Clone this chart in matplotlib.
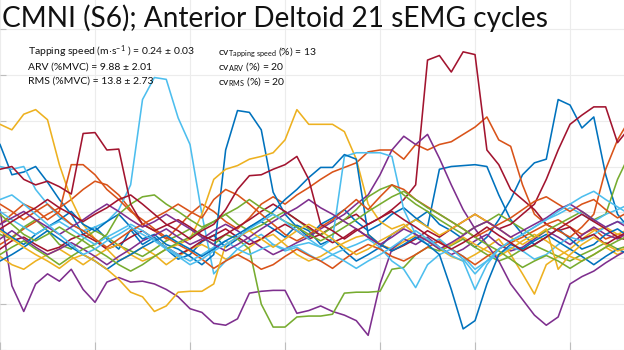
import numpy as np
import matplotlib
matplotlib.use("Agg")
import matplotlib.pyplot as plt

# Normalised cycle time (%) shared by all cycles
cycle_pct = np.arange(54) * 1.25

# sEMG envelope (%MVC) for each of the 21 cycles
cycle_01 = [22.4, 19.1, 19.4, 20.0, 18.3, 16.4, 14.8, 12.6, 13.4, 12.1, 11.0, 13.1, 11.5, 12.3, 11.0, 9.9, 10.4, 11.8,
            12.5, 11.2, 12.1, 13.4, 14.0, 13.2, 12.3, 13.6, 13.0, 11.5, 12.1, 10.8, 9.7, 10.4, 11.2, 12.6, 13.4, 14.2,
            15.1, 13.7, 13.0, 12.1, 11.2, 12.3, 14.2, 16.4, 19.1, 20.4, 20.8, 27.3, 26.7, 24.2, 25.4, 19.1, 14.8, 13.2]
cycle_02 = [11.5, 12.3, 13.2, 14.0, 14.8, 15.5, 16.4, 17.5, 18.4, 18.0, 16.9, 15.3, 13.7, 13.0, 12.1, 13.4, 14.8, 15.9,
            15.1, 14.0, 13.2, 14.4, 15.9, 16.7, 15.9, 16.9, 17.7, 18.6, 19.4, 19.9, 20.4, 21.6, 21.8, 21.8, 20.8, 22.4,
            21.8, 22.4, 22.7, 23.5, 24.3, 25.4, 22.9, 22.2, 18.0, 14.8, 13.7, 14.2, 13.4, 12.6, 13.2, 12.1, 12.6, 12.3]
cycle_03 = [24.6, 24.0, 25.7, 26.2, 25.1, 20.2, 16.4, 13.7, 12.1, 11.0, 9.7, 10.4, 11.2, 10.4, 9.3, 10.2, 11.0, 11.5,
            10.8, 9.9, 10.4, 11.2, 12.1, 12.6, 11.5, 10.4, 9.7, 10.2, 11.0, 11.7, 12.3, 12.6, 11.5, 11.0, 11.8, 12.5,
            12.1, 11.0, 10.2, 9.7, 10.4, 11.2, 12.1, 10.4, 8.3, 6.1, 9.3, 10.2, 11.0, 12.1, 13.0, 13.4, 12.6, 13.2]
cycle_04 = [15.3, 7.0, 4.2, 7.2, 8.3, 7.5, 8.8, 6.6, 5.2, 7.4, 7.9, 7.4, 7.5, 7.2, 6.6, 5.8, 4.5, 4.1,
            2.9, 2.7, 3.4, 6.2, 6.4, 6.5, 6.5, 4.0, 4.3, 4.8, 4.2, 3.8, 3.2, 1.6, 7.2, 11.0, 12.1, 11.5,
            12.3, 11.2, 10.4, 11.0, 11.9, 12.6, 11.5, 10.8, 11.2, 12.1, 13.0, 12.3, 11.5, 12.5, 13.4, 12.6, 12.1, 12.9]
cycle_05 = [12.6, 12.1, 13.4, 14.2, 13.0, 11.5, 11.0, 12.1, 13.0, 12.3, 11.4, 10.8, 10.2, 11.0, 11.9, 12.5, 13.2, 12.3,
            11.5, 12.6, 12.1, 11.0, 5.0, 2.5, 2.5, 3.6, 3.7, 3.7, 3.9, 6.2, 6.3, 6.3, 6.4, 8.8, 9.0, 10.4,
            11.2, 10.8, 11.4, 12.1, 11.2, 10.4, 9.7, 10.2, 11.0, 11.4, 10.8, 10.2, 9.7, 10.4, 11.0, 11.7, 11.0, 11.4]
cycle_06 = [20.0, 19.7, 20.0, 17.5, 15.9, 14.5, 13.7, 13.0, 13.4, 14.0, 15.3, 18.0, 27.3, 29.7, 29.5, 25.3, 22.4, 14.8,
            8.3, 9.7, 11.0, 11.9, 12.6, 11.5, 10.8, 11.2, 10.4, 9.7, 10.4, 11.0, 11.5, 12.1, 11.2, 9.7, 8.8, 6.8,
            9.3, 10.4, 11.0, 10.2, 8.8, 9.7, 10.4, 11.2, 10.8, 9.9, 10.4, 11.5, 12.3, 11.9, 12.6, 13.4, 14.0, 13.7]
cycle_07 = [11.0, 11.9, 12.3, 11.5, 10.8, 11.2, 12.1, 12.6, 11.9, 11.0, 11.5, 12.3, 13.0, 12.1, 11.2, 10.4, 11.0, 11.9,
            12.5, 13.2, 12.3, 11.5, 12.1, 13.0, 13.7, 13.0, 12.1, 12.6, 13.4, 14.2, 14.8, 13.7, 14.4, 15.3, 16.4, 18.0,
            31.6, 32.1, 30.3, 32.5, 32.2, 21.8, 20.2, 17.5, 16.4, 15.3, 13.7, 13.0, 13.4, 12.1, 12.6, 11.5, 12.3, 11.9]
cycle_08 = [13.2, 12.3, 11.5, 12.6, 13.4, 14.2, 15.1, 13.7, 13.0, 14.0, 14.8, 13.4, 12.1, 12.6, 11.5, 11.0, 10.2, 9.3,
            10.4, 21.8, 26.1, 25.9, 24.0, 17.2, 14.8, 13.4, 12.3, 13.7, 14.4, 15.3, 14.0, 13.0, 13.7, 14.8, 15.5, 14.4,
            13.4, 19.7, 20.0, 20.1, 20.2, 20.0, 16.9, 14.2, 12.6, 11.5, 12.3, 13.2, 12.1, 11.0, 11.5, 12.6, 13.2, 12.3]
cycle_09 = [13.7, 14.8, 15.9, 15.3, 14.2, 15.1, 20.2, 20.2, 19.1, 17.5, 16.4, 15.1, 14.2, 13.2, 12.3, 11.5, 10.8, 9.9,
            8.9, 9.7, 10.4, 9.7, 8.8, 9.3, 10.2, 11.0, 10.3, 9.7, 8.9, 9.9, 10.8, 11.5, 11.0, 10.2, 9.7, 10.4,
            11.2, 11.9, 11.0, 10.2, 9.3, 10.2, 11.0, 11.7, 12.3, 13.0, 13.7, 13.0, 12.3, 13.4, 14.8, 19.7, 22.9, 25.1]
cycle_10 = [10.2, 9.3, 8.8, 9.7, 10.4, 11.0, 10.2, 9.3, 10.2, 11.0, 11.5, 10.4, 9.7, 10.2, 11.0, 11.5, 12.1, 14.8,
            18.6, 19.7, 20.1, 20.8, 21.1, 21.5, 22.9, 26.2, 24.6, 24.6, 24.6, 23.8, 20.8, 15.9, 14.0, 13.2, 13.7, 12.6,
            11.9, 11.0, 11.5, 12.3, 11.5, 10.8, 10.2, 11.0, 11.9, 12.6, 11.9, 11.0, 10.2, 9.7, 10.4, 11.2, 10.4, 11.0]
cycle_11 = [12.1, 13.0, 12.1, 11.2, 10.4, 11.0, 11.7, 11.0, 10.2, 9.3, 10.2, 11.0, 11.9, 12.5, 13.2, 12.3, 11.5, 12.1,
            13.0, 13.7, 13.0, 12.1, 11.2, 10.4, 11.0, 11.7, 12.3, 13.2, 14.0, 14.8, 15.9, 16.9, 19.1, 21.8, 23.3, 22.4,
            23.5, 20.9, 18.0, 15.3, 13.2, 11.5, 9.7, 7.2, 5.5, 3.8, 2.7, 3.6, 7.2, 8.0, 8.6, 9.5, 10.3, 11.0]
cycle_12 = [10.4, 11.2, 11.9, 11.0, 10.2, 9.3, 10.2, 11.0, 11.5, 12.6, 14.8, 15.9, 16.7, 16.9, 15.9, 15.1, 14.2, 13.4,
            14.0, 14.8, 13.7, 13.0, 13.6, 14.4, 15.1, 14.2, 13.2, 12.5, 13.4, 14.2, 15.3, 16.7, 17.5, 18.0, 16.9, 15.9,
            15.1, 14.2, 13.4, 12.6, 13.4, 14.0, 14.8, 14.0, 13.2, 12.3, 13.0, 13.7, 14.4, 15.1, 14.2, 14.8, 18.6, 21.3]
cycle_13 = [15.1, 14.2, 13.4, 12.6, 13.4, 14.0, 13.2, 12.3, 11.5, 12.3, 13.0, 13.7, 13.0, 12.1, 11.2, 10.4, 9.7, 10.4,
            11.2, 11.9, 11.0, 10.4, 11.0, 11.5, 11.0, 11.4, 11.7, 11.2, 12.1, 21.1, 21.5, 21.5, 21.5, 21.1, 15.3, 12.6,
            11.5, 12.1, 11.0, 9.9, 8.3, 9.7, 11.0, 11.9, 12.6, 13.4, 14.2, 14.8, 15.5, 14.8, 14.0, 14.8, 15.3, 15.9]
cycle_14 = [19.7, 20.0, 18.6, 18.0, 18.4, 17.8, 17.0, 23.6, 23.7, 21.8, 21.9, 15.9, 13.7, 13.0, 13.6, 14.2, 13.4, 12.5,
            11.9, 12.6, 13.4, 14.2, 15.1, 15.9, 15.1, 14.2, 13.4, 12.5, 11.7, 12.3, 13.2, 12.3, 11.5, 10.8, 11.4, 12.1,
            13.0, 12.3, 13.2, 14.0, 14.8, 14.0, 13.2, 13.7, 14.8, 15.9, 18.6, 21.8, 24.6, 25.6, 26.5, 26.5, 22.6, 24.2]
cycle_15 = [9.7, 10.4, 11.2, 12.1, 13.0, 12.1, 11.2, 10.4, 9.7, 8.8, 9.7, 10.4, 11.2, 11.9, 12.5, 11.7, 11.0, 10.2,
            11.0, 11.9, 12.6, 13.4, 14.2, 15.1, 16.4, 17.5, 18.8, 19.9, 19.9, 21.3, 20.8, 12.6, 11.5, 10.8, 11.5, 12.3,
            11.5, 10.4, 6.6, 2.3, 3.2, 7.2, 10.4, 11.5, 11.0, 11.9, 12.6, 11.8, 11.0, 10.2, 9.3, 10.2, 11.0, 10.4]
cycle_16 = [15.9, 15.1, 14.2, 15.1, 15.9, 14.8, 13.7, 13.0, 12.1, 11.2, 12.1, 13.0, 13.7, 14.4, 15.1, 15.9, 15.1, 14.4,
            16.4, 17.5, 16.9, 15.9, 14.8, 13.7, 12.6, 11.9, 12.6, 13.4, 14.2, 15.3, 16.4, 15.3, 16.7, 18.0, 17.5, 16.4,
            15.6, 14.8, 14.0, 13.2, 12.3, 13.0, 13.7, 14.4, 15.3, 16.2, 16.7, 15.9, 15.1, 15.9, 16.4, 15.3, 14.4, 15.1]
cycle_17 = [13.0, 12.1, 11.2, 10.4, 9.7, 8.9, 9.9, 10.4, 9.7, 8.8, 7.7, 6.3, 5.8, 4.2, 4.8, 6.3, 6.4, 6.4,
            7.2, 11.5, 12.3, 13.0, 12.1, 11.2, 12.1, 13.0, 13.7, 13.0, 12.1, 11.2, 10.4, 11.0, 11.9, 12.6, 13.4, 14.2,
            13.4, 12.5, 13.2, 14.0, 14.8, 14.0, 13.2, 12.3, 11.5, 12.3, 13.2, 8.8, 10.4, 11.5, 12.3, 11.5, 10.8, 11.2]
cycle_18 = [13.7, 14.4, 15.1, 14.2, 13.4, 12.6, 13.4, 14.2, 15.1, 15.9, 15.1, 14.2, 13.4, 14.0, 14.8, 14.0, 13.2, 12.3,
            11.5, 10.8, 11.5, 12.3, 13.2, 14.0, 14.8, 15.5, 16.4, 15.5, 14.8, 14.0, 13.2, 12.3, 11.5, 12.3, 13.2, 12.6,
            11.9, 11.0, 11.7, 12.5, 13.4, 14.0, 13.2, 12.3, 13.0, 13.7, 14.4, 15.3, 15.9, 15.1, 14.2, 13.4, 14.0, 13.2]
cycle_19 = [14.8, 13.7, 12.6, 11.9, 12.6, 13.4, 12.6, 11.9, 11.0, 10.2, 9.3, 8.6, 9.3, 10.2, 11.0, 11.7, 12.3, 13.2,
            14.0, 14.8, 15.5, 16.4, 15.5, 14.8, 14.0, 13.4, 12.6, 11.9, 12.6, 13.4, 14.2, 15.1, 15.9, 16.7, 17.3, 16.4,
            15.5, 14.8, 14.0, 13.2, 12.3, 11.5, 10.8, 9.9, 9.0, 9.7, 10.3, 9.7, 8.9, 9.7, 10.4, 11.2, 11.9, 12.5]
cycle_20 = [16.4, 16.9, 15.9, 14.8, 13.7, 12.6, 11.5, 10.4, 11.0, 11.9, 12.6, 13.4, 12.6, 11.9, 11.0, 10.2, 9.3, 9.9,
            10.8, 11.5, 12.3, 13.2, 14.0, 14.8, 14.0, 13.0, 12.1, 11.2, 10.4, 9.7, 8.9, 9.7, 10.4, 11.2, 12.1, 13.0,
            12.1, 11.2, 10.3, 9.7, 6.6, 9.3, 11.0, 11.9, 12.6, 13.4, 14.2, 15.1, 15.9, 16.7, 17.3, 16.4, 15.6, 14.8]
cycle_21 = [13.2, 14.0, 14.8, 15.5, 16.4, 15.5, 14.8, 14.0, 14.8, 15.5, 16.4, 16.9, 15.9, 14.8, 13.7, 13.0, 12.1, 13.0,
            13.7, 15.3, 17.5, 19.0, 19.1, 19.7, 20.2, 21.1, 18.6, 13.7, 13.0, 12.1, 13.0, 13.7, 14.4, 15.1, 14.2, 13.4,
            12.5, 11.7, 11.0, 11.7, 12.5, 13.4, 12.5, 11.7, 10.8, 11.5, 12.3, 13.2, 14.0, 14.8, 14.0, 13.2, 12.3, 13.0]

cycles = [cycle_01, cycle_02, cycle_03, cycle_04, cycle_05, cycle_06, cycle_07,
          cycle_08, cycle_09, cycle_10, cycle_11, cycle_12, cycle_13, cycle_14,
          cycle_15, cycle_16, cycle_17, cycle_18, cycle_19, cycle_20, cycle_21]

palette = ["#0072BD", "#D95319", "#EDB120", "#7E2F8E", "#77AC30", "#4DBEEE", "#A2142F"]

title = "CMNI (S6); Anterior Deltoid 21 sEMG cycles"
stats_left = [r"Tapping speed (m$\cdot$s$^{\mathregular{-1}}$ ) = 0.24 ± 0.03",
              "ARV (%MVC) = 9.88 ± 2.01",
              "RMS (%MVC) = 13.8 ± 2.73"]
stats_right = [r"cv$_{\mathregular{Tapping\ speed}}$ (%) = 13",
               r"cv$_{\mathregular{ARV}}$ (%) = 20",
               r"cv$_{\mathregular{RMS}}$ (%) = 20"]

plt.rcParams["mathtext.default"] = "regular"
plt.rcParams["font.family"] = ["Lato", "DejaVu Sans"]

fig = plt.figure(figsize=(6.24, 3.5), dpi=100)
ax = fig.add_axes([0, 0, 1, 1])

for k, ys in enumerate(cycles):
    ax.plot(cycle_pct, ys, color=palette[k % 7], lw=1.15, solid_joinstyle="round")

ax.set_xlim(0, 65.68)
ax.set_ylim(0, 38.15)
ax.set_xticks(np.arange(0, 70, 10))
ax.set_yticks(np.arange(0, 40, 5))
ax.grid(True, color="#ececec", lw=0.8)
ax.set_axisbelow(True)
for s in ax.spines.values():
    s.set_visible(False)
ax.tick_params(axis="x", direction="in", length=6, color="#bdbdbd", labelbottom=False)
ax.tick_params(axis="y", direction="in", length=4, color="#bdbdbd", labelleft=False)

fig.text(2 / 624, 1 - 27 / 350, title, fontsize=20.2, color="#111111", ha="left", va="baseline")
for j, (a, b) in enumerate(zip(stats_left, stats_right)):
    yb = 1 - (55 + 14.5 * j) / 350
    fig.text(28 / 624, yb, a, fontsize=7.5, color="#111111", ha="left", va="baseline")
    fig.text(218 / 624, yb, b, fontsize=7.5, color="#111111", ha="left", va="baseline")

fig.savefig("out.png", dpi=100)
